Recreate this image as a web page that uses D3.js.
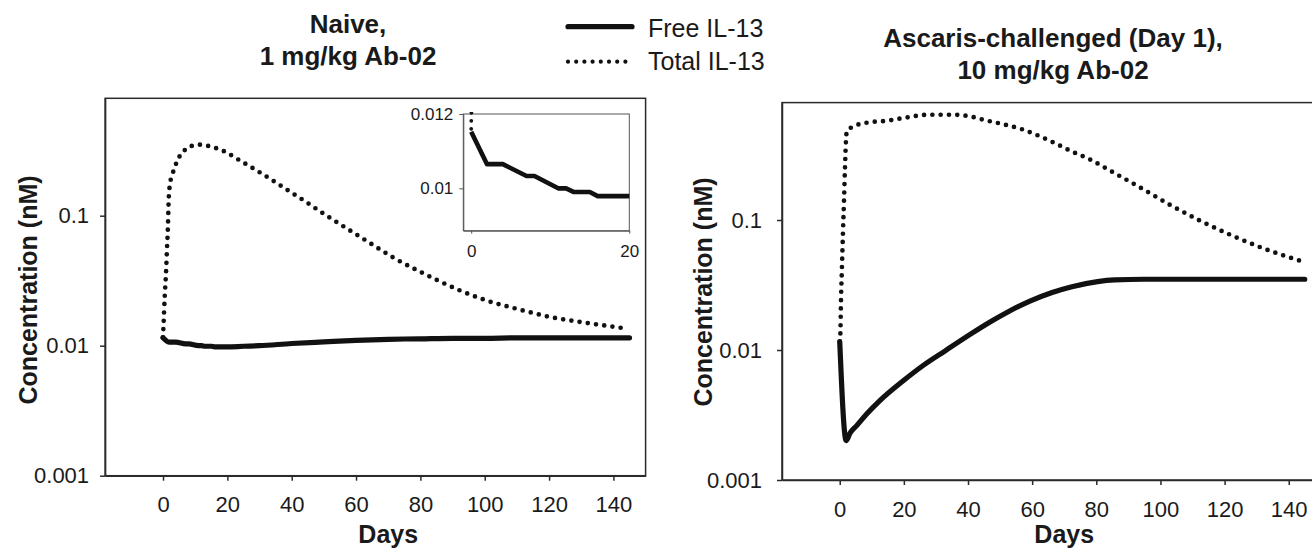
<!DOCTYPE html>
<html><head><meta charset="utf-8">
<script src="https://cdn.jsdelivr.net/npm/d3@7"></script>
<style>
body{margin:0;background:#fff;}
svg text{font-family:"Liberation Sans",Arial,Helvetica,sans-serif;fill:#1a1a1a;}
</style></head><body>
<svg id="chart" width="1312" height="548"></svg>
<script>
// ---------- data ----------
const xTicks = [0, 20, 40, 60, 80, 100, 120, 140];
const yTicks = [0.001, 0.01, 0.1];
const yTickLabels = ["0.001", "0.01", "0.1"];
const insetXTicks = [0, 20];
const insetYTicks = [0.01, 0.012];
const insetYTickLabels = ["0.01", "0.012"];
const seriesNames = ["Free IL-13", "Total IL-13"];
const titleNaive = ["Naive,", "1 mg/kg Ab-02"];
const titleAscaris = ["Ascaris-challenged (Day 1),", "10 mg/kg Ab-02"];
const xLabel = "Days";
const yLabel = "Concentration (nM)";

// Naive, 1 mg/kg
const freeNaiveDays = [0, 2, 4, 7, 8, 11, 12, 13, 15, 16, 20, 25, 30, 40, 50, 60, 70, 80, 90, 100, 110, 120, 130, 145];
const freeNaive = [0.01152, 0.01065, 0.01065, 0.01033, 0.01033, 0.0100, 0.0100, 0.0099, 0.0099, 0.00979, 0.00979, 0.0099, 0.0100, 0.0104, 0.0107, 0.0110, 0.0112, 0.0113, 0.0114, 0.0114, 0.0115, 0.0115, 0.0115, 0.0115];
const totalNaiveDays = [0, 0.21, 0.52, 0.93, 1.24, 1.55, 1.76, 2.18, 2.8, 3.6, 4.66, 6.4, 8.9, 11.5, 14.1, 19.2, 24.1, 29.1, 34.2, 39.3, 44.4, 49.3, 54.4, 60, 66, 72, 80, 92, 100, 110, 120, 130, 143.6];
const totalNaive = [0.0116, 0.0153, 0.0236, 0.0362, 0.0557, 0.0858, 0.132, 0.176, 0.203, 0.234, 0.272, 0.313, 0.344, 0.352, 0.344, 0.311, 0.264, 0.223, 0.186, 0.154, 0.128, 0.106, 0.088, 0.072, 0.058, 0.047, 0.037, 0.0268, 0.0225, 0.0192, 0.0167, 0.0152, 0.0136];

// Ascaris-challenged, 10 mg/kg
const freeAscDays = [0, 2, 3.2, 5.3, 8.4, 12.6, 19.8, 26, 33, 40.9, 47, 52.7, 59.3, 66, 72.4, 80.4, 85.7, 95, 110, 125, 145];
const freeAsc = [0.0116, 0.00201, 0.00229, 0.00262, 0.00322, 0.00410, 0.0058, 0.0076, 0.0099, 0.0133, 0.0165, 0.0198, 0.0238, 0.0276, 0.0307, 0.0336, 0.0346, 0.035, 0.035, 0.035, 0.035];
const totalAscDays = [0, 0.2, 0.4, 0.7, 1.0, 1.34, 1.65, 1.96, 2.18, 4.2, 8.4, 14.6, 20, 27.7, 35.6, 40, 46.1, 51, 56.7, 62, 67.2, 72, 77.7, 85.6, 93.5, 102.7, 112, 122.5, 131.7, 144.2];
const totalAsc = [0.0116, 0.0134, 0.0242, 0.0437, 0.079, 0.142, 0.257, 0.412, 0.478, 0.524, 0.56, 0.58, 0.61, 0.645, 0.645, 0.63, 0.58, 0.545, 0.50, 0.445, 0.389, 0.34, 0.295, 0.23, 0.179, 0.132, 0.0998, 0.0756, 0.061, 0.048];

// ---------- drawing ----------
const svg = d3.select("#chart");
const FONT_TICK = 22, FONT_LABEL = 25, FONT_TITLE = 26, FONT_LEGEND = 25;
const INK = "#111";

function zip(xs, ys) { return xs.map((d, i) => ({x: d, y: ys[i]})); }

function panel(cfg) {
  const x = d3.scaleLinear().domain([-18, 150]).range(cfg.xr);
  const y = d3.scaleLog().domain([0.001, 0.8]).range(cfg.yr);
  const g = svg.append("g");

  g.append("rect")
    .attr("x", cfg.xr[0]).attr("y", cfg.yr[1])
    .attr("width", cfg.xr[1] - cfg.xr[0]).attr("height", cfg.yr[0] - cfg.yr[1])
    .attr("fill", "none").attr("stroke", "#2a2a2a").attr("stroke-width", 1.5);

  const xa = g.append("g").attr("transform", `translate(0,${cfg.yr[0]})`)
    .call(d3.axisBottom(x).tickValues(xTicks).tickSize(5).tickSizeOuter(0).tickPadding(16));
  const ya = g.append("g").attr("transform", `translate(${cfg.xr[0]},0)`)
    .call(d3.axisLeft(y).tickValues(yTicks).tickFormat((d, i) => yTickLabels[i]).tickSize(5).tickSizeOuter(0).tickPadding(cfg.yPad));
  [xa, ya].forEach(a => {
    a.selectAll("path.domain").attr("stroke", "#2a2a2a").attr("stroke-width", 1.5);
    a.selectAll(".tick line").attr("stroke", "#2a2a2a").attr("stroke-width", 1.5);
    a.selectAll("text").style("font-size", FONT_TICK + "px").attr("fill", "#1a1a1a");
  });

  g.append("text").attr("x", x(70)).attr("y", cfg.daysY).attr("text-anchor", "middle")
    .style("font-size", FONT_LABEL + "px").style("font-weight", "bold").text(xLabel);
  g.append("text").attr("transform", `translate(${cfg.ylabX},${cfg.ylabY}) rotate(-90)`)
    .attr("text-anchor", "middle")
    .style("font-size", FONT_LABEL + "px").style("font-weight", "bold").text(yLabel);

  cfg.title.forEach((t, i) => {
    g.append("text").attr("x", cfg.titleX).attr("y", cfg.titleY[i]).attr("text-anchor", "middle")
      .style("font-size", FONT_TITLE + "px").style("font-weight", "bold").text(t);
  });

  const line = d3.line().x(d => x(d.x)).y(d => y(d.y)).curve(d3.curveMonotoneX);
  g.append("path").datum(zip(cfg.totalDays, cfg.total)).attr("d", line)
    .attr("fill", "none").attr("stroke", INK).attr("stroke-width", 4.7)
    .attr("stroke-linecap", "round").attr("stroke-dasharray", "0 8.3");
  g.append("path").datum(zip(cfg.freeDays, cfg.free)).attr("d", line)
    .attr("fill", "none").attr("stroke", INK).attr("stroke-width", 5.2)
    .attr("stroke-linejoin", "round").attr("stroke-linecap", "round");
  return {x, y, g};
}

panel({
  xr: [105.1, 645.6], yr: [475.7, 98.3], yPad: 11,
  daysY: 542.7, ylabX: 37, ylabY: 290,
  title: titleNaive, titleX: 348, titleY: [33, 65],
  freeDays: freeNaiveDays, free: freeNaive, totalDays: totalNaiveDays, total: totalNaive
});
panel({
  xr: [782, 1320.8], yr: [480, 102.6], yPad: 15,
  daysY: 543.3, ylabX: 712, ylabY: 292,
  title: titleAscaris, titleX: 1053, titleY: [47, 79],
  freeDays: freeAscDays, free: freeAsc, totalDays: totalAscDays, total: totalAsc
});

// ---------- inset (first 20 days, linear) ----------
(function inset() {
  const x = d3.scaleLinear().domain([-1, 20]).range([463.3, 629.3]);
  const y = d3.scaleLinear().domain([0.00886, 0.012]).range([230.7, 114]);
  const g = svg.append("g");
  g.append("rect").attr("x", 463.3).attr("y", 114).attr("width", 166).attr("height", 116.7)
    .attr("fill", "#fff").attr("stroke", "#555").attr("stroke-width", 1);
  g.append("clipPath").attr("id", "insetClip").append("rect")
    .attr("x", 463.3).attr("y", 112).attr("width", 168).attr("height", 120);
  const xa = g.append("g").attr("transform", "translate(0,230.7)")
    .call(d3.axisBottom(x).tickValues(insetXTicks).tickSize(3).tickSizeOuter(0).tickPadding(11));
  const ya = g.append("g").attr("transform", "translate(463.3,0)")
    .call(d3.axisLeft(y).tickValues(insetYTicks).tickFormat((d, i) => insetYTickLabels[i]).tickSize(4).tickSizeOuter(0).tickPadding(6));
  [xa, ya].forEach(a => {
    a.selectAll("path.domain").attr("stroke", "#555").attr("stroke-width", 1);
    a.selectAll(".tick line").attr("stroke", "#555").attr("stroke-width", 1);
    a.selectAll("text").style("font-size", "17px").attr("fill", "#1a1a1a");
  });
  const line = d3.line().x(d => x(d.x)).y(d => y(d.y));
  const cg = g.append("g").attr("clip-path", "url(#insetClip)");
  cg.append("path").datum(zip(totalNaiveDays, totalNaive).filter(d => d.x <= 20)).attr("d", line)
    .attr("fill", "none").attr("stroke", INK).attr("stroke-width", 3.8)
    .attr("stroke-linecap", "round").attr("stroke-dasharray", "0 8");
  cg.append("path").datum(zip(freeNaiveDays, freeNaive).filter(d => d.x <= 20)).attr("d", line)
    .attr("fill", "none").attr("stroke", INK).attr("stroke-width", 4.6)
    .attr("stroke-linejoin", "round").attr("stroke-linecap", "butt");
})();

// ---------- legend ----------
(function legend() {
  const g = svg.append("g");
  const rows = [{y: 26.7, dashed: false}, {y: 61.7, dashed: true}];
  rows.forEach((r, i) => {
    const l = g.append("line").attr("x1", 568).attr("x2", r.dashed ? 627 : 632)
      .attr("y1", r.y).attr("y2", r.y).attr("stroke", INK)
      .attr("stroke-linecap", "round").attr("stroke-width", r.dashed ? 4.2 : 5.2);
    if (r.dashed) l.attr("stroke-dasharray", "0 8.2");
    g.append("text").attr("x", 648).attr("y", r.y + (i === 0 ? 10 : 8.5))
      .style("font-size", FONT_LEGEND + "px").text(seriesNames[i]);
  });
})();
</script>
</body></html>
